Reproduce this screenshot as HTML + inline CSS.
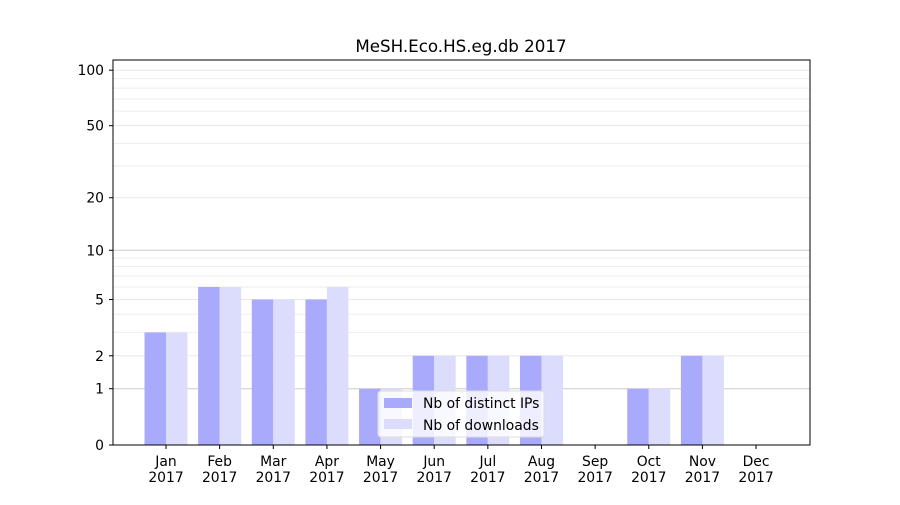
<!DOCTYPE html>
<html><head><meta charset="utf-8"><style>
body{margin:0;background:#fff;}
svg text{font-family:"DejaVu Sans","Liberation Sans",sans-serif;fill:#000;}
</style></head><body>
<svg id="chart" width="900" height="500" xmlns="http://www.w3.org/2000/svg">
<rect width="900" height="500" fill="#fff"/>
<text x="461" y="52" font-size="16.7" text-anchor="middle">MeSH.Eco.HS.eg.db 2017</text>
<g id="grid"></g>
<g id="bars"></g>
<rect x="113" y="60" width="697" height="385" fill="none" stroke="#000" stroke-width="1"/>
<g id="axes"></g>
<g>
<rect x="378" y="391" width="166" height="46" fill="#fff" fill-opacity="0.8" stroke="#ddd" rx="3"/>
<rect x="384" y="398" width="28" height="10" fill="#aaaafc"/>
<text x="423" y="408" font-size="13.9">Nb of distinct IPs</text>
<rect x="384" y="419" width="28" height="10" fill="#dcdcfc"/>
<text x="423" y="430" font-size="13.9">Nb of downloads</text>
</g>
</svg>
<script>
const months = ["Jan","Feb","Mar","Apr","May","Jun","Jul","Aug","Sep","Oct","Nov","Dec"];
const distinctIPs = [3,6,5,5,1,2,2,2,0,1,2,0];
const downloads = [3,6,5,6,1,2,2,2,0,1,2,0];
const yTicks = [0,1,2,5,10,20,50,100];
const minorTicks = [3,4,6,7,8,9,30,40,60,70,80,90];
const NS="http://www.w3.org/2000/svg";
function y(v){return 445-187*Math.log10(1+v);}
function x(i){return 166+i*53.64;}
function mk(tag,attrs,parent){const e=document.createElementNS(NS,tag);for(const k in attrs)e.setAttribute(k,attrs[k]);parent.appendChild(e);return e;}
const grid=document.getElementById('grid'),bars=document.getElementById('bars'),axes=document.getElementById('axes');
minorTicks.forEach(v=>{const l=mk('line',{x1:113,x2:810,y1:y(v),y2:y(v),stroke:'#eeeeee','stroke-width':1},grid);

});
[20,50,100,2,5].forEach(v=>{const l=mk('line',{x1:113,x2:810,y1:y(v),y2:y(v),stroke:'#e8e8e8','stroke-width':1},grid);

});
[1,10].forEach(v=>{const l=mk('line',{x1:113,x2:810,y1:y(v),y2:y(v),stroke:'#cccccc','stroke-width':1},grid);

});
months.forEach((m,i)=>{
 const b1=mk('rect',{x:x(i)-21.5,y:y(distinctIPs[i]),width:21.5,height:445-y(distinctIPs[i]),fill:'#aaaafc'},bars);
 
 
 const b2=mk('rect',{x:x(i),y:y(downloads[i]),width:21.5,height:445-y(downloads[i]),fill:'#dcdcfc'},bars);
 
 
 mk('line',{x1:x(i),x2:x(i),y1:445,y2:449,stroke:'#000'},axes);
 const t=mk('text',{x:x(i),y:466,'font-size':13.9,'text-anchor':'middle'},axes);
 
 
 mk('tspan',{x:x(i),dy:0},t).textContent=m;
 mk('tspan',{x:x(i),dy:16},t).textContent='2017';
});
yTicks.forEach(v=>{
 mk('line',{x1:109,x2:113,y1:y(v),y2:y(v),stroke:'#000'},axes);
 const t=mk('text',{x:104,y:y(v)+5,'font-size':13.9,'text-anchor':'end'},axes);
 
 
 t.textContent=v;
});
</script>
</body></html>
